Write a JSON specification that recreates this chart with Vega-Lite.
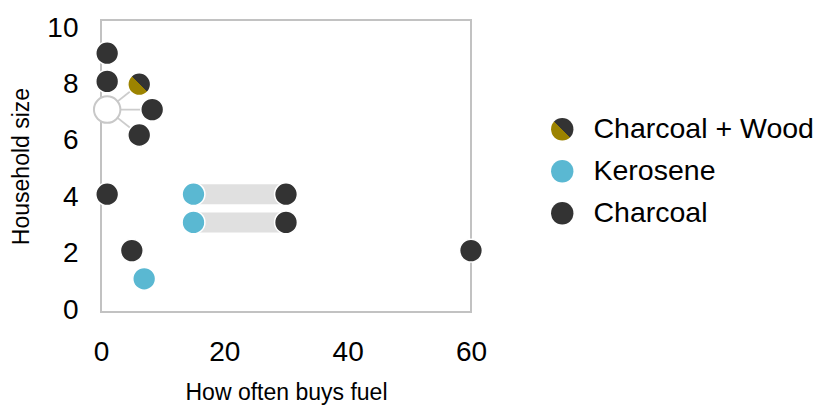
{
  "$schema": "https://vega.github.io/schema/vega-lite/v6.json",
  "width": 370,
  "height": 292,
  "autosize": {"type": "none"},
  "padding": {"left": 101, "top": 20, "right": 357, "bottom": 93},
  "background": "white",
  "config": {
    "font": "Liberation Sans",
    "view": {"stroke": "#c2c2c2", "strokeWidth": 2},
    "axis": {
      "grid": false, "domain": false, "ticks": false, "labelFlush": false,
      "labelFontSize": 28, "titleFontSize": 23, "titleFontWeight": "normal",
      "labelColor": "#000000", "titleColor": "#000000"
    }
  },
  "datasets": {
    "ranges": [
      {"fuel_from": "Kerosene", "fuel_to": "Charcoal", "freq": 15, "freq2": 30, "size": 4},
      {"fuel_from": "Kerosene", "fuel_to": "Charcoal", "freq": 15, "freq2": 30, "size": 3}
    ],
    "spokes": [
      {"freq": 1, "size": 7, "freq2": 6.2, "size2": 7.9},
      {"freq": 1, "size": 7, "freq2": 8.3, "size2": 7.0},
      {"freq": 1, "size": 7, "freq2": 6.2, "size2": 6.1}
    ],
    "cluster": [
      {"freq": 1, "size": 7}
    ],
    "points": [
      {"fuel": "Charcoal", "freq": 1, "size": 9},
      {"fuel": "Charcoal", "freq": 1, "size": 8},
      {"fuel": "Charcoal", "freq": 1, "size": 4},
      {"fuel": "Charcoal", "freq": 5, "size": 2},
      {"fuel": "Kerosene", "freq": 7, "size": 1},
      {"fuel": "Charcoal", "freq": 60, "size": 2},
      {"fuel": "Kerosene", "freq": 15, "size": 4},
      {"fuel": "Charcoal", "freq": 30, "size": 4},
      {"fuel": "Kerosene", "freq": 15, "size": 3},
      {"fuel": "Charcoal", "freq": 30, "size": 3},
      {"fuel": "Charcoal + Wood", "freq": 6.2, "size": 7.9},
      {"fuel": "Charcoal", "freq": 8.3, "size": 7.0},
      {"fuel": "Charcoal", "freq": 6.2, "size": 6.1}
    ]
  },
  "encoding": {
    "x": {
      "field": "freq", "type": "quantitative", "title": "How often buys fuel",
      "scale": {"domain": [0, 60], "nice": false, "zero": false},
      "axis": {"values": [0, 20, 40, 60], "labelPadding": 26, "titlePadding": 15}
    },
    "y": {
      "field": "size", "type": "quantitative", "title": "Household size",
      "scale": {"domain": [0, 10], "nice": false, "zero": false},
      "axis": {"values": [0, 2, 4, 6, 8, 10], "labelPadding": 23, "labelOffset": 3, "titlePadding": 13}
    }
  },
  "layer": [
    {
      "data": {"name": "ranges"},
      "mark": {"type": "bar", "height": 20, "color": "#e0e0e0"},
      "encoding": {"x2": {"field": "freq2"}}
    },
    {
      "data": {"name": "spokes"},
      "mark": {"type": "rule", "color": "#cccccc", "strokeWidth": 1.8},
      "encoding": {"x2": {"field": "freq2"}, "y2": {"field": "size2"}}
    },
    {
      "data": {"name": "cluster"},
      "mark": {"type": "point", "filled": true, "fill": "white", "stroke": "#c8c8c8", "strokeWidth": 2, "size": 700, "opacity": 1}
    },
    {
      "data": {"name": "points"},
      "mark": {"type": "point", "filled": true, "size": 520, "stroke": "white", "strokeWidth": 1.5, "opacity": 1},
      "encoding": {
        "fill": {
          "field": "fuel", "type": "nominal",
          "scale": {
            "domain": ["Charcoal + Wood", "Kerosene", "Charcoal"],
            "range": [
              {"expr": "{gradient: 'linear', x1: 1, y1: 0, x2: 0, y2: 1, stops: [{offset: 0, color: '#333333'}, {offset: 0.5, color: '#333333'}, {offset: 0.5, color: '#9c8300'}, {offset: 1, color: '#9c8300'}]}"},
              "#5ab8d2",
              "#333333"
            ]
          },
          "legend": {
            "title": null, "orient": "none", "legendX": 447, "legendY": 95,
            "labelFontSize": 28.5, "labelColor": "#000000", "labelLimit": 400, "symbolSize": 500,
            "symbolType": "circle", "symbolStrokeWidth": 0, "labelOffset": 17,
            "rowPadding": 13, "padding": 0
          }
        }
      }
    }
  ]
}
